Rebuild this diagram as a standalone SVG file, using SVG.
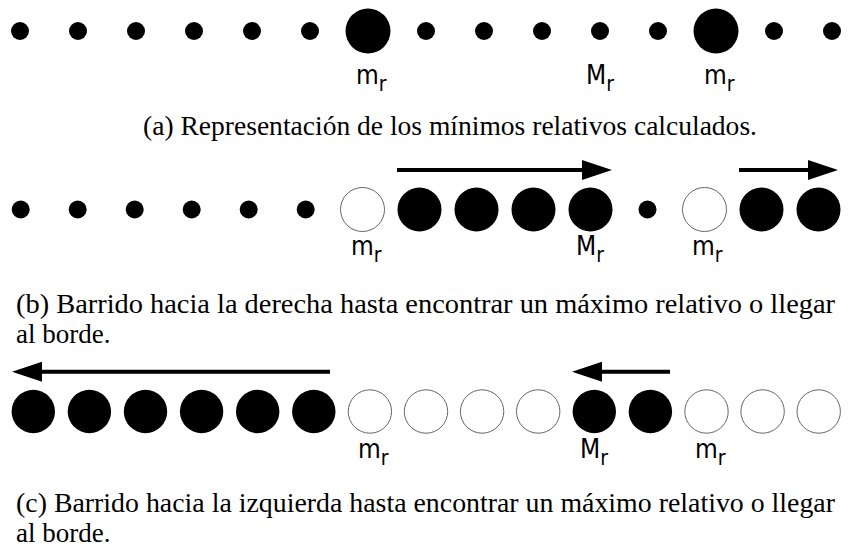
<svg xmlns="http://www.w3.org/2000/svg" width="851" height="548" viewBox="0 0 851 548">
<style>
.s{fill:#000}
.f{fill:#000}
.o{fill:#fff;stroke:#666;stroke-width:1}
.lbl{font-family:"DejaVu Sans Condensed","DejaVu Sans",sans-serif;font-stretch:condensed;font-size:26px;fill:#000}
.sub{font-size:21px}
.cap{font-family:"Liberation Serif","DejaVu Serif",serif;font-size:27px;fill:#000}
.arr{stroke:#000;stroke-width:4;fill:none;marker-end:url(#ah)}
</style>
<defs>
<marker id="ah" markerUnits="userSpaceOnUse" markerWidth="30" markerHeight="20" refX="0" refY="10" orient="auto" overflow="visible">
<path d="M0,0 L30,10 L0,20 z" fill="#000"/>
</marker>
</defs>
<rect width="851" height="548" fill="#fff"/>

<!-- Row a -->
<g id="row-a">
<g id="a0"><circle class="s" cx="20" cy="31" r="9"/></g>
<g id="a1"><circle class="s" cx="78" cy="31" r="9"/></g>
<g id="a2"><circle class="s" cx="136" cy="31" r="9"/></g>
<g id="a3"><circle class="s" cx="194" cy="31" r="9"/></g>
<g id="a4"><circle class="s" cx="252" cy="31" r="9"/></g>
<g id="a5"><circle class="s" cx="310" cy="31" r="9"/></g>
<g id="a6"><circle class="f" cx="368" cy="31" r="22.5"/><text class="lbl" x="356" y="84">m<tspan class="sub" dy="7">r</tspan></text></g>
<g id="a7"><circle class="s" cx="426" cy="31" r="9"/></g>
<g id="a8"><circle class="s" cx="484" cy="31" r="9"/></g>
<g id="a9"><circle class="s" cx="542" cy="31" r="9"/></g>
<g id="a10"><circle class="s" cx="600" cy="31" r="9"/><text class="lbl" x="586" y="84">M<tspan class="sub" dy="7">r</tspan></text></g>
<g id="a11"><circle class="s" cx="658" cy="31" r="9"/></g>
<g id="a12"><circle class="f" cx="716" cy="31" r="22.5"/><text class="lbl" x="704" y="84">m<tspan class="sub" dy="7">r</tspan></text></g>
<g id="a13"><circle class="s" cx="774" cy="31" r="9"/></g>
<g id="a14"><circle class="s" cx="832" cy="31" r="9"/></g>
</g>
<text class="cap" x="143" y="135" textLength="614" lengthAdjust="spacingAndGlyphs">(a) Representación de los mínimos relativos calculados.</text>

<!-- Row b -->
<g id="row-b">
<g id="b0"><circle class="s" cx="20.7" cy="209.5" r="9"/></g>
<g id="b1"><circle class="s" cx="77.7" cy="209.5" r="9"/></g>
<g id="b2"><circle class="s" cx="134.7" cy="209.5" r="9"/></g>
<g id="b3"><circle class="s" cx="191.7" cy="209.5" r="9"/></g>
<g id="b4"><circle class="s" cx="248.7" cy="209.5" r="9"/></g>
<g id="b5"><circle class="s" cx="305.7" cy="209.5" r="9"/></g>
<g id="b6"><circle class="o" cx="362.5" cy="209.5" r="22"/><text class="lbl" x="351" y="255">m<tspan class="sub" dy="7">r</tspan></text></g>
<g id="b7"><circle class="f" cx="419.5" cy="209.5" r="22"/></g>
<g id="b8"><circle class="f" cx="476.5" cy="209.5" r="22"/></g>
<g id="b9"><circle class="f" cx="533.5" cy="209.5" r="22"/></g>
<g id="b10"><circle class="f" cx="590.5" cy="209.5" r="22"/><text class="lbl" x="576" y="255">M<tspan class="sub" dy="7">r</tspan></text></g>
<g id="b11"><circle class="s" cx="647.5" cy="209.5" r="9"/></g>
<g id="b12"><circle class="o" cx="704.5" cy="209.5" r="22"/><text class="lbl" x="692" y="255">m<tspan class="sub" dy="7">r</tspan></text></g>
<g id="b13"><circle class="f" cx="761.5" cy="209.5" r="22"/></g>
<g id="b14"><circle class="f" cx="818.5" cy="209.5" r="22"/></g>
</g>
<text class="cap" x="16" y="313" textLength="819" lengthAdjust="spacingAndGlyphs">(b) Barrido hacia la derecha hasta encontrar un máximo relativo o llegar</text>
<text class="cap" x="16" y="343">al borde.</text>

<!-- Row c -->
<g id="row-c">
<g id="c0"><circle class="f" cx="33.3" cy="411.5" r="21.7"/></g>
<g id="c1"><circle class="f" cx="89.4" cy="411.5" r="21.7"/></g>
<g id="c2"><circle class="f" cx="145.5" cy="411.5" r="21.7"/></g>
<g id="c3"><circle class="f" cx="201.6" cy="411.5" r="21.7"/></g>
<g id="c4"><circle class="f" cx="257.7" cy="411.5" r="21.7"/></g>
<g id="c5"><circle class="f" cx="313.8" cy="411.5" r="21.7"/></g>
<g id="c6"><circle class="o" cx="369.9" cy="411.5" r="21.7"/><text class="lbl" x="358" y="458">m<tspan class="sub" dy="7">r</tspan></text></g>
<g id="c7"><circle class="o" cx="426" cy="411.5" r="21.7"/></g>
<g id="c8"><circle class="o" cx="482.1" cy="411.5" r="21.7"/></g>
<g id="c9"><circle class="o" cx="538.2" cy="411.5" r="21.7"/></g>
<g id="c10"><circle class="f" cx="594.3" cy="411.5" r="21.7"/><text class="lbl" x="580" y="458">M<tspan class="sub" dy="7">r</tspan></text></g>
<g id="c11"><circle class="f" cx="650.4" cy="411.5" r="21.7"/></g>
<g id="c12"><circle class="o" cx="706.5" cy="411.5" r="21.7"/><text class="lbl" x="695" y="458">m<tspan class="sub" dy="7">r</tspan></text></g>
<g id="c13"><circle class="o" cx="762.6" cy="411.5" r="21.7"/></g>
<g id="c14"><circle class="o" cx="818.7" cy="411.5" r="21.7"/></g>
</g>
<text class="cap" x="16" y="512" textLength="819" lengthAdjust="spacingAndGlyphs">(c) Barrido hacia la izquierda hasta encontrar un máximo relativo o llegar</text>
<text class="cap" x="16" y="542">al borde.</text>

<g id="connectors">
<line class="arr" x1="397" y1="170" x2="582" y2="170"/>
<line class="arr" x1="739" y1="170" x2="808" y2="170"/>
<line class="arr" x1="330" y1="371.7" x2="42" y2="371.7"/>
<line class="arr" x1="670" y1="371.7" x2="602" y2="371.7"/>
</g>
</svg>
